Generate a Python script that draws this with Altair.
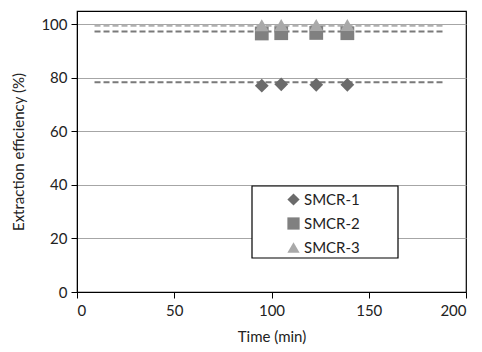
import altair as alt
import pandas as pd

series = ["SMCR-1", "SMCR-2", "SMCR-3"]
times = [95, 105, 123, 139]
smcr1 = [77.1, 77.6, 77.4, 77.4]
smcr2 = [96.6, 96.7, 96.8, 96.7]
smcr3 = [99.7, 99.8, 99.8, 99.8]
fit_x = [9, 189]
fit_levels = [78.4, 97.3, 99.5]

point_colors = ["#6b6b6b", "#808080", "#a9a9a9"]
line_colors = ["#7a7a7a", "#7a7a7a", "#b0b0b0"]
shapes = ["diamond", "square", "triangle-up"]

rows = []
for s, vals in zip(series, [smcr1, smcr2, smcr3]):
    for t, v in zip(times, vals):
        rows.append({"series": s, "time": t, "eff": v})
pts = pd.DataFrame(rows)

FONT = "Lato"

xenc = alt.X("time:Q", scale=alt.Scale(domain=[0, 200], nice=False),
             axis=alt.Axis(title="Time (min)", values=[0, 50, 100, 150, 200], grid=False))
yenc = alt.Y("eff:Q", scale=alt.Scale(domain=[0, 105], nice=False),
             axis=alt.Axis(title="Extraction efficiency (%)", values=[0, 20, 40, 60, 80, 100],
                           grid=True, gridColor="#a6a6a6", gridWidth=1))

line_layers = []
for s, lv, c in zip(series, fit_levels, line_colors):
    df = pd.DataFrame({"time": fit_x, "eff": [lv, lv]})
    line_layers.append(
        alt.Chart(df).mark_line(strokeDash=[6, 3], strokeWidth=2, color=c).encode(x=xenc, y=yenc)
    )

legend_box = alt.Chart(pd.DataFrame({"a": [0]})).mark_rect(
    fill="#ffffff", stroke="#000000", strokeWidth=1.2
).encode(x=alt.value(175), x2=alt.value(321), y=alt.value(175), y2=alt.value(247))

leg = alt.Legend(title=None, orient="none", legendX=209, legendY=181,
                 padding=0, rowPadding=8, symbolSize=150, symbolStrokeWidth=0,
                 labelFontSize=15, labelFont=FONT, labelColor="#222222", labelOffset=3)

point_layer = alt.Chart(pts).mark_point(filled=True, size=190, opacity=1).encode(
    x=xenc, y=yenc,
    color=alt.Color("series:N", scale=alt.Scale(domain=series, range=point_colors), legend=leg),
    shape=alt.Shape("series:N", scale=alt.Scale(domain=series, range=shapes), legend=leg),
)

chart = alt.layer(*line_layers, legend_box, point_layer).properties(
    width=389, height=281,
    padding={"left": 77, "top": 11, "right": 16, "bottom": 60},
    autosize=alt.AutoSizeParams(type="none"),
).configure_view(stroke="#000000", strokeWidth=1.2).configure_axis(
    domainColor="#000000", tickColor="#000000", tickSize=6,
    labelFont=FONT, labelFontSize=15, labelColor="#222222",
    titleFont=FONT, titleFontSize=15, titleColor="#222222", titleFontWeight="normal",
).configure_axisX(labelPadding=5, titlePadding=11).configure_axisY(labelPadding=4, titlePadding=14)

chart.save("out.html", embed_options={"renderer": "svg", "actions": False})
